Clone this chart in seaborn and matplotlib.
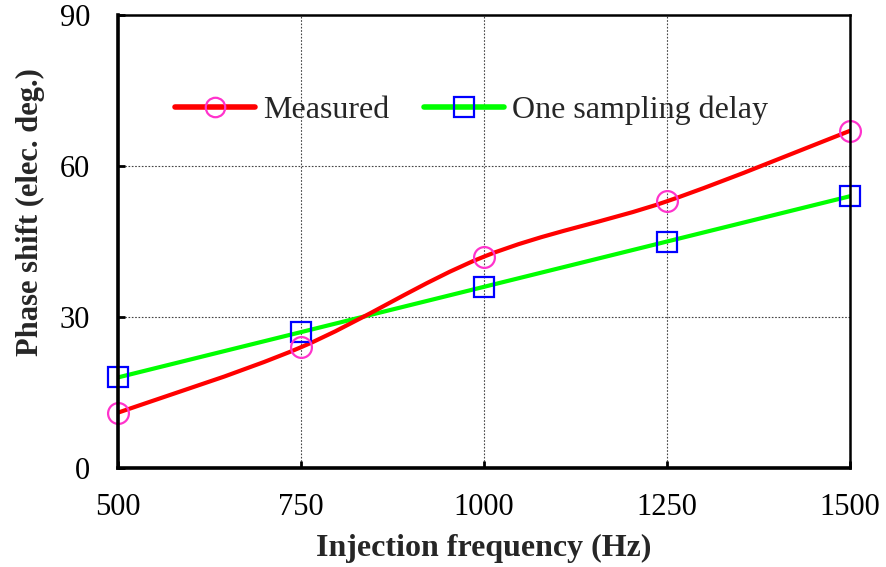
"""
Phase shift vs injection frequency: measured vs one sampling delay.
"""

import numpy as np
import pandas as pd
import seaborn as sns
import matplotlib
matplotlib.use("Agg")
import matplotlib.pyplot as plt
from matplotlib.path import Path
from matplotlib.patches import PathPatch
from matplotlib.lines import Line2D

# -------------------------------------------------- DATA -------------------------------------------------- #

freq = [500, 750, 1000, 1250, 1500]
measured = [11, 24, 42, 53, 67]
one_delay = [18, 27, 36, 45, 54]

x_ticks = [500, 750, 1000, 1250, 1500]
y_ticks = [0, 30, 60, 90]

# -------------------------------------------------- STYLE -------------------------------------------------- #

sns.set_style("ticks")
plt.rcParams['font.family'] = ['Liberation Serif', 'DejaVu Serif']

RED = '#FF0000'
PINK = '#FF33CC'
GREEN = '#00FF00'
BLUE = '#0000FF'
FS = 23


def smooth_path(xs, ys):
    # Excel-like smoothed line: cubic bezier between points, tangents from neighbours
    pts = np.column_stack([xs, ys]).astype(float)
    n = len(pts)
    verts = [pts[0]]
    codes = [Path.MOVETO]
    for i in range(n - 1):
        p0 = pts[i - 1] if i > 0 else pts[i]
        p1 = pts[i]
        p2 = pts[i + 1]
        p3 = pts[i + 2] if i + 2 < n else pts[i + 1]
        c1 = p1 + (p2 - p0) / 6
        c2 = p2 - (p3 - p1) / 6
        verts += [c1, c2, p2]
        codes += [Path.CURVE4] * 3
    return Path(verts, codes)


# -------------------------------------------------- PLOT -------------------------------------------------- #

df = pd.DataFrame({'freq': freq, 'measured': measured, 'one_delay': one_delay})

fig = plt.figure(figsize=(8.86, 5.67), dpi=100)
ax = fig.add_axes([0.1332, 0.1746, 0.8262, 0.7989])

# green line + blue squares
sns.lineplot(data=df, x='freq', y='one_delay', ax=ax, color=GREEN, linewidth=3, zorder=3)
# red smoothed line
ax.add_patch(PathPatch(smooth_path(freq, measured), facecolor='none', edgecolor=RED,
                       linewidth=3, zorder=4, capstyle='round'))

ax.plot(freq, measured, linestyle='none', marker='o', markersize=15, markerfacecolor='none',
        markeredgecolor=PINK, markeredgewidth=1.6, zorder=6, clip_on=False)
ax.plot(freq, one_delay, linestyle='none', marker='s', markersize=15, markerfacecolor='none',
        markeredgecolor=BLUE, markeredgewidth=1.6, zorder=5, clip_on=False)

ax.set_xlim(500, 1500)
ax.set_ylim(0, 90)
ax.set_xticks(x_ticks)
ax.set_yticks(y_ticks)
ax.grid(True, linestyle=(0, (1.5, 1.5)), color='#444444', linewidth=0.8)

for side in ['left', 'bottom']:
    ax.spines[side].set_linewidth(2.6)
for side in ['top', 'right']:
    ax.spines[side].set_linewidth(1.8)
    ax.spines[side].set_visible(True)
for sp in ax.spines.values():
    sp.set_color('black')
    sp.set_zorder(7)

ax.tick_params(axis='both', direction='in', length=5, width=2, labelsize=FS - 1, colors='black')
ax.tick_params(axis='x', pad=18)
ax.tick_params(axis='y', pad=20)

ax.set_xlabel('Injection frequency (Hz)', fontsize=FS, fontweight='bold')
ax.set_ylabel('Phase shift (elec. deg.)', fontsize=FS - 1, fontweight='bold')
ax.xaxis.set_label_coords(0.5, -0.145)
ax.yaxis.set_label_coords(-0.10, 0.565)

handles = [
    Line2D([], [], color=RED, linewidth=4, marker='o', markersize=14, markerfacecolor='none',
           markeredgecolor=PINK, markeredgewidth=1.6, solid_capstyle='round'),
    Line2D([], [], color=GREEN, linewidth=4, marker='s', markersize=14, markerfacecolor='none',
           markeredgecolor=BLUE, markeredgewidth=1.6, solid_capstyle='round'),
]
ax.legend(handles, ['Measured', 'One sampling delay'], loc='center left',
          bbox_to_anchor=(0.078, 0.79), ncol=2, frameon=False, fontsize=FS,
          handlelength=2.5, handletextpad=0.25, columnspacing=1.1, borderaxespad=0,
          borderpad=0)

fig.savefig('out.png', dpi=100)
